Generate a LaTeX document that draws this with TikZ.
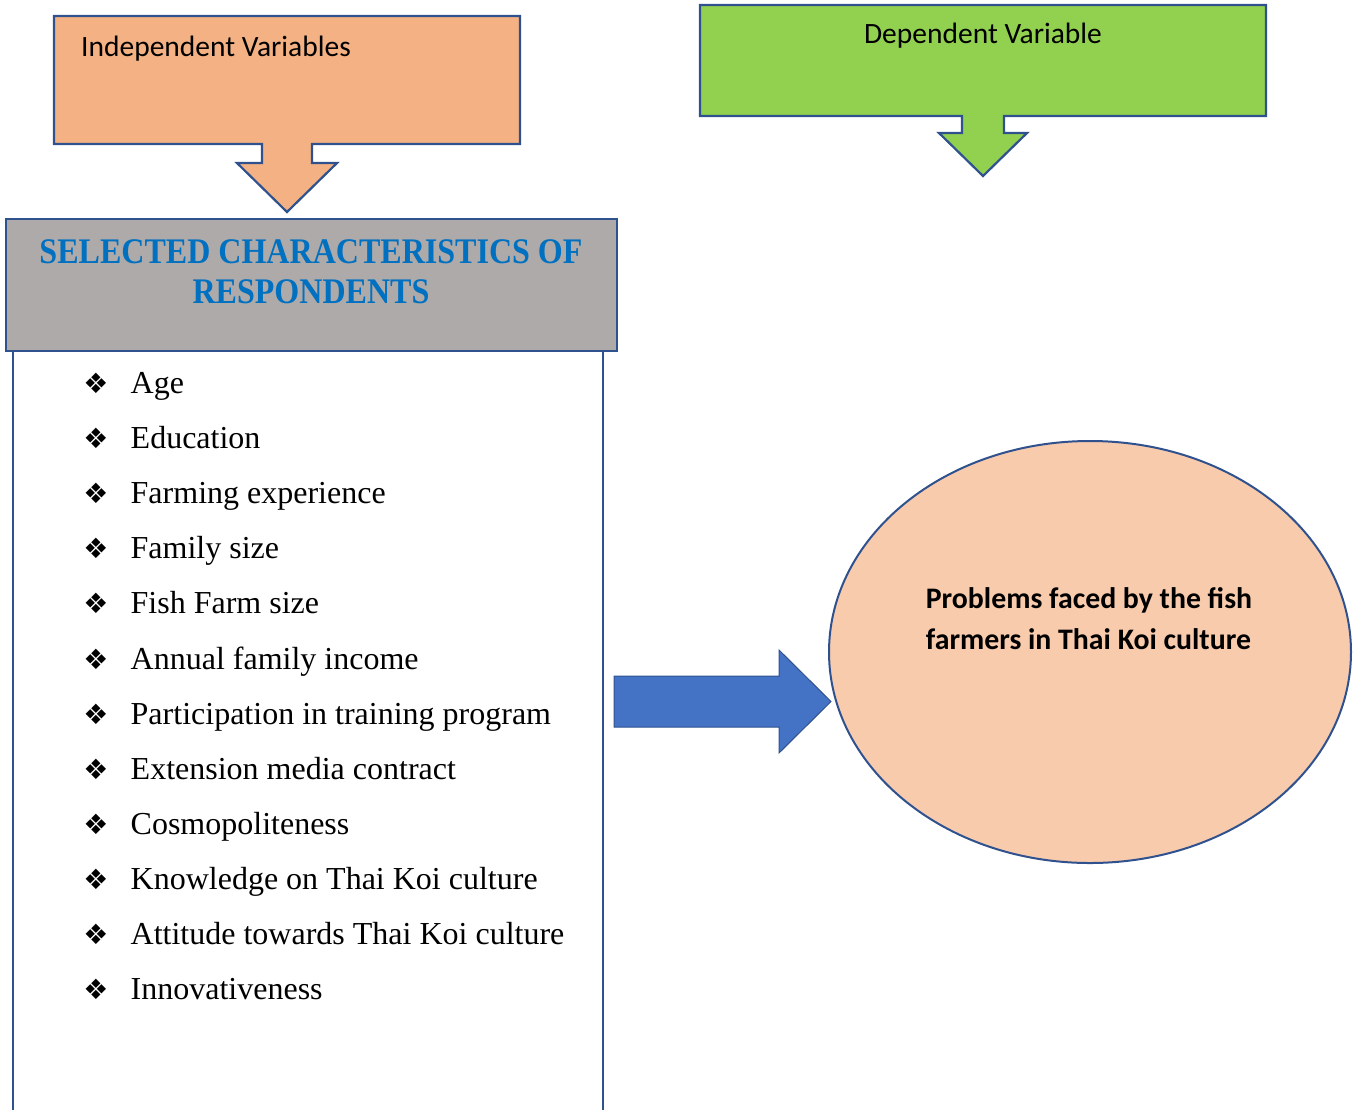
\documentclass[tikz,border=0pt]{standalone}
\usepackage{fontspec}
\setmainfont{Liberation Serif}
\newfontfamily\calfont{Carlito}
\newfontfamily\symfont{DejaVu Sans}
\newfontfamily\titlefont{Liberation Serif}[FakeStretch=0.89]
\usetikzlibrary{shapes.geometric,calc}
\definecolor{bordercol}{HTML}{2F528F}
\definecolor{orangefill}{HTML}{F4B183}
\definecolor{greenfill}{HTML}{92D050}
\definecolor{greyfill}{HTML}{AEAAAA}
\definecolor{titleblue}{HTML}{0070C0}
\definecolor{arrowblue}{HTML}{4472C4}
\definecolor{peach}{HTML}{F8CBAD}
\tikzset{
  outline/.style={draw=bordercol, line width=2.2pt, line join=miter},
  holder/.style={rectangle, inner sep=0pt, outer sep=0pt},
  headtext/.style={font=\calfont\fontsize{29.5}{35}\selectfont, inner sep=0pt},
  itemtext/.style={font=\fontsize{32}{38}\selectfont, inner sep=0pt, anchor=base west},
  bullettext/.style={font=\symfont\fontsize{28}{32}\selectfont, inner sep=0pt, anchor=base},
}
\begin{document}
\begin{tikzpicture}[x=1pt,y=-1pt]
\useasboundingbox (0,0) rectangle (1354,1109);

% Independent variables callout
\node[holder, minimum width=466pt, minimum height=128pt, anchor=north west] (ind) at (54,16) {};
\draw[outline, fill=orangefill] (ind.north west) -- (ind.north east) -- (ind.south east)
  -- ($(ind.south)+(25,0)$) -- ++(0,19) -- ++(25,0) -- ++(-50,49) -- ++(-50,-49) -- ++(25,0) -- ++(0,-19)
  -- (ind.south west) -- cycle;
\node[headtext, anchor=west] (indlabel) at (81,49) {Independent Variables};

% Dependent variable callout
\node[holder, minimum width=566pt, minimum height=111pt, anchor=north west] (dep) at (700,5) {};
\draw[outline, fill=greenfill] (dep.north west) -- (dep.north east) -- (dep.south east)
  -- ($(dep.south)+(21,0)$) -- ++(0,17) -- ++(23,0) -- ++(-44,43) -- ++(-44,-43) -- ++(23,0) -- ++(0,-17)
  -- (dep.south west) -- cycle;
\node[headtext] (deplabel) at (983,36) {Dependent Variable};

% Selected characteristics box
\node[outline, fill=greyfill, rectangle, minimum width=611pt, minimum height=132pt, anchor=north west, inner sep=0pt] (sel) at (5,218) {};
\node[font=\titlefont\bfseries\fontsize{36}{40}\selectfont, text=titleblue, align=center, inner sep=0pt] (seltitle) at (311,272)
  {SELECTED CHARACTERISTICS OF\\RESPONDENTS};

% List box (open at the bottom)
\coordinate (listtl) at (13,350);
\coordinate (listtr) at (603,350);
\draw[outline] (listtl) -- (13,1115);
\draw[outline] (listtr) -- (603,1115);

\foreach \t [count=\i from 0] in {Age, Education, Farming experience, Family size, Fish Farm size,
  Annual family income, Participation in training program, Extension media contract,
  Cosmopoliteness, Knowledge on Thai Koi culture, Attitude towards Thai Koi culture, Innovativeness}{
  \node[bullettext] (bul\i) at (96,{393.5+55.1*\i}) {❖};
  \node[itemtext] (item\i) at (130.5,{393.5+55.1*\i}) {\t};
}

% Ellipse
\node[ellipse, draw=bordercol, line width=2pt, fill=peach, minimum width=522pt, minimum height=422pt, inner sep=0pt] (prob) at (1090,652) {};
\node[font=\calfont\bfseries\fontsize{29.8}{41}\selectfont, align=left, inner sep=0pt] (probtext) at (1089,619)
  {Problems faced by the fish\\farmers in Thai Koi culture};

% Block arrow from list to ellipse
\coordinate (tip) at (831,701.5);
\draw[draw=bordercol, line width=1pt, fill=arrowblue] (tip) -- ++(-52,-51.5) -- ++(0,26) -- ++(-165,0) -- ++(0,51) -- ++(165,0) -- ++(0,26) -- cycle;
\end{tikzpicture}
\end{document}
